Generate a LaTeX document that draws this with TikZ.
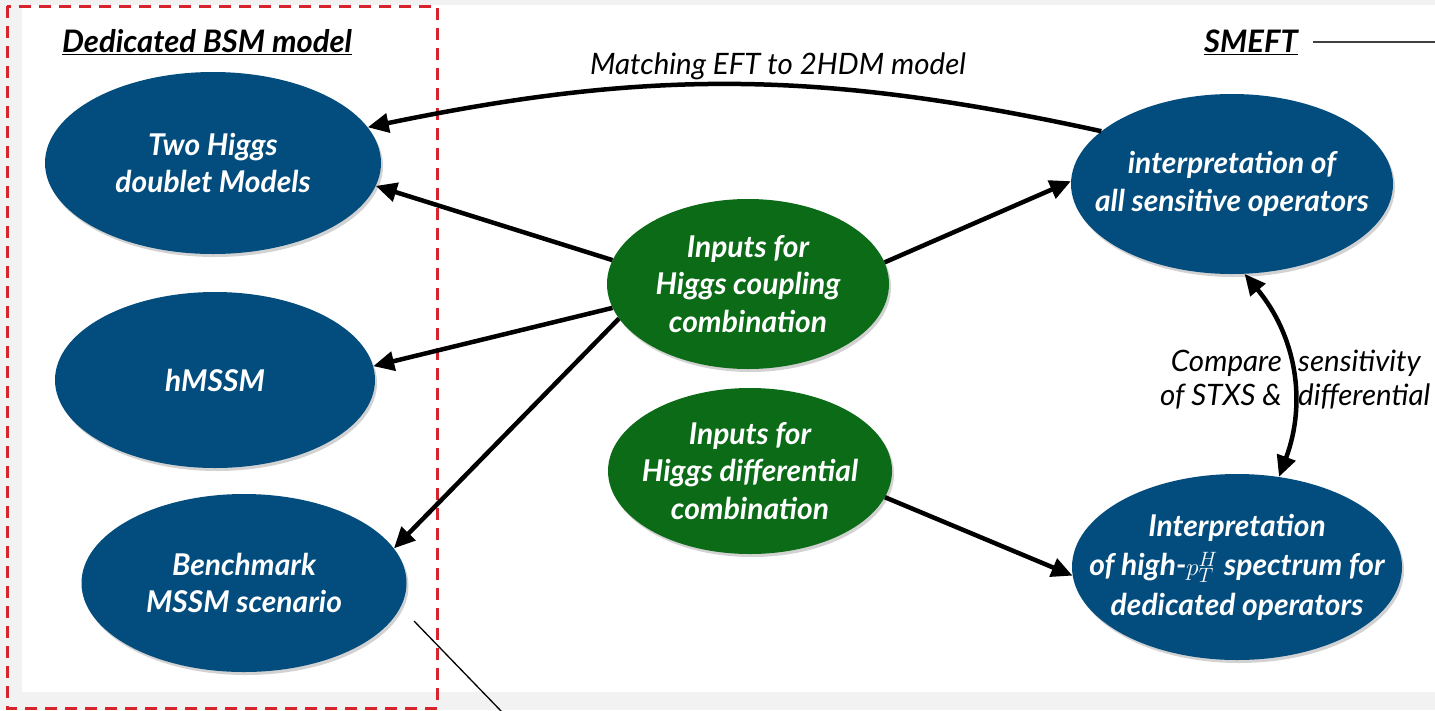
\documentclass[tikz,border=0pt]{standalone}
\usepackage{fontspec}
\setmainfont{Lato}
\usetikzlibrary{shapes.geometric,arrows.meta,shadows}
\definecolor{nodeblue}{HTML}{034D7E}
\definecolor{nodegreen}{HTML}{0B6B17}
\definecolor{dashred}{HTML}{D7242C}
\definecolor{bggray}{HTML}{F2F2F2}
\begin{document}
\begin{tikzpicture}[x=1pt,y=-1pt,
  bubble/.style={ellipse, inner sep=0pt,
    drop shadow={shadow xshift=2pt,shadow yshift=-3pt,opacity=0.35}},
  bluebub/.style={bubble, fill=nodeblue},
  greenbub/.style={bubble, fill=nodegreen},
  bubtext/.style={inner sep=0pt, text=white, align=center,
    font=\fontsize{30}{37.5}\selectfont\bfseries\itshape},
  conn/.style={line width=4.5pt, -{Triangle[length=21pt,width=19pt]}},
  lbl/.style={font=\fontsize{29.5}{34}\selectfont\itshape, inner sep=0pt},
  ttl/.style={font=\fontsize{31}{34}\selectfont\bfseries\itshape, inner sep=0pt}]
\useasboundingbox (0,0) rectangle (1435,710);
\fill[bggray] (0,0) rectangle (1435,710);
\fill[white] (22,5) rectangle (1435,692);
\draw[dashred, line width=3pt, dash pattern=on 12pt off 8pt] (7,6) rectangle (437,708);

% titles
\node[ttl] (tbsm) at (207,42) {\underline{Dedicated BSM model}};
\node[ttl] (tsm) at (1251,42) {\underline{SMEFT}};
\coordinate (smA) at (1313,42);
\coordinate (smB) at (1435,42);
\draw[line width=1.5pt, black!75] (smA) -- (smB);

% nodes
\node[bluebub, minimum width=336pt, minimum height=182pt] (th) at (213,163) {};
\node[bubtext] (tht) at (th) {Two Higgs\\doublet Models};
\node[bluebub, minimum width=320pt, minimum height=176pt] (hm) at (215,380) {};
\node[bubtext] (hmt) at (hm) {hMSSM};
\node[bluebub, minimum width=325pt, minimum height=178pt] (bm) at (244,583) {};
\node[bubtext] (bmt) at (bm) {Benchmark\\MSSM scenario};
\node[bluebub, minimum width=322pt, minimum height=180pt] (ia) at (1232,184) {};
\node[bubtext] (iat) at (ia) {interpretation of\\all sensitive operators};
\node[bluebub, minimum width=330pt, minimum height=186pt] (hp) at (1237,567) {};
\node[bubtext, font=\fontsize{30}{39.5}\selectfont\bfseries\itshape] (hpt) at (hp) {Interpretation\\of high-$p_T^H$ spectrum for\\dedicated operators};
\node[greenbub, minimum width=282pt, minimum height=170pt] (cp) at (748,284) {};
\node[bubtext] (cpt) at (cp) {Inputs for\\Higgs coupling\\combination};
\node[greenbub, minimum width=284pt, minimum height=166pt] (dc) at (750,471) {};
\node[bubtext] (dct) at (dc) {Inputs for\\Higgs differential\\combination};

% connectors
\draw[conn] (ia.158) to[bend right=12] (th.13);
\node[lbl] (mlab) at (778,66) {Matching EFT to 2HDM model};
\draw[conn] (cp.170) -- (th.-8);
\draw[conn] (cp.-170) -- (hm.5);
\draw[conn] (cp.-165) -- (bm.13);
\draw[conn] (cp.9) -- (ia.179);
\draw[conn] (dc.-11) -- (hp.-177);
\draw[line width=4.5pt, {Triangle[length=21pt,width=19pt]}-{Triangle[length=21pt,width=19pt]}] (ia.-82) to[bend left=30] (hp.65);
\node[lbl, anchor=east, align=right] (cl) at (1282,380) {Compare\\of STXS \&};
\node[lbl, anchor=west, align=left] (cr) at (1298,380) {sensitivity\\differential};

% thin line
\coordinate (tlA) at (414,621);
\coordinate (tlB) at (502,712);
\draw[line width=1.3pt] (tlA) -- (tlB);
\end{tikzpicture}
\end{document}
